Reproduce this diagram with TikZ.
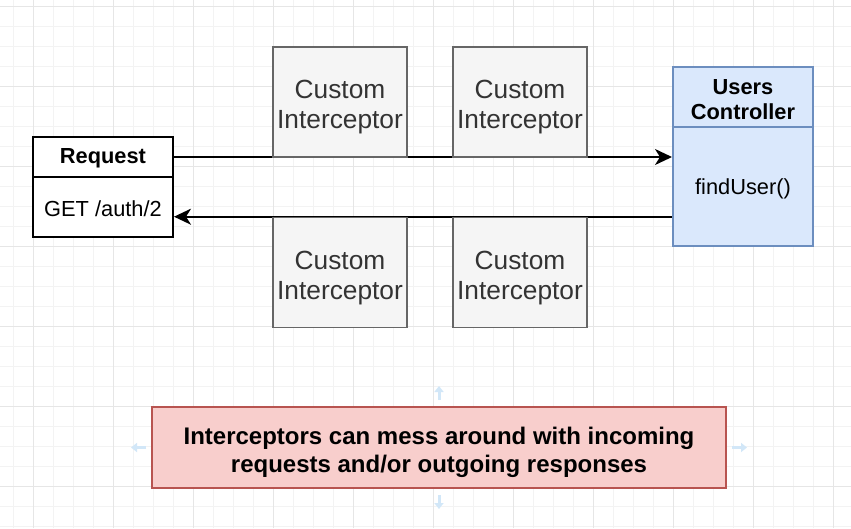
\documentclass[tikz,border=0pt]{standalone}
\usepackage{fontspec}
\setmainfont{Liberation Sans}
\usetikzlibrary{arrows.meta}
\pgfdeclarelayer{gridlayer}
\pgfdeclarelayer{linelayer}
\pgfsetlayers{gridlayer,linelayer,main}
\definecolor{gridminor}{HTML}{F3F3F3}
\definecolor{gridmajor}{HTML}{E6E6E6}
\definecolor{intfill}{HTML}{F5F5F5}
\definecolor{intdraw}{HTML}{666666}
\definecolor{inttext}{HTML}{333333}
\definecolor{ctrlfill}{HTML}{DAE8FC}
\definecolor{ctrldraw}{HTML}{6C8EBF}
\definecolor{notefill}{HTML}{F8CECC}
\definecolor{notedraw}{HTML}{B85450}
\definecolor{hintblue}{HTML}{D2E7F8}
\tikzset{
  reqbox/.style={draw=black, line width=2pt, fill=white, minimum width=140pt, inner sep=0pt},
  ctrlbox/.style={draw=ctrldraw, line width=2pt, fill=ctrlfill, minimum width=140pt, inner sep=0pt},
  intbox/.style={draw=intdraw, line width=1.6pt, fill=intfill, minimum width=134pt, minimum height=110pt, inner sep=0pt},
  notebox/.style={draw=notedraw, line width=2pt, fill=notefill, minimum width=574pt, minimum height=81pt, inner sep=0pt},
  txt/.style={inner sep=0pt, align=center, text=black},
  inttxt/.style={txt, text=inttext, font=\fontsize{26.3}{30}\selectfont},
  notetxt/.style={txt, font=\bfseries\fontsize{24}{28}\selectfont},
  headfont/.style={txt, font=\bfseries\fontsize{21.8}{25}\selectfont},
  bodyfont/.style={txt, font=\fontsize{21.8}{25}\selectfont},
  flow/.style={draw=black, line width=2pt, -{Stealth[length=17pt,width=16pt,inset=5pt]}},
  hint/.style={draw=hintblue, line width=3pt, -{Triangle[length=6pt,width=9pt]}}
}
\begin{document}
\begin{tikzpicture}[x=1pt,y=-1pt]
\useasboundingbox (0,0) rectangle (851,528);
\begin{pgfonlayer}{gridlayer}
  \fill[white] (0,0) rectangle (851,528);
  \foreach \i in {0,...,42} {\draw[gridminor, line width=0.8pt] ({13.33+20*\i},0) -- ++(0,528);}
  \foreach \i in {0,...,26} {\draw[gridminor, line width=0.8pt] (0,{6.67+20*\i}) -- ++(851,0);}
  \foreach \i in {0,...,10} {\draw[gridmajor, line width=0.8pt] ({33.33+80*\i},0) -- ++(0,528);}
  \foreach \i in {0,...,6} {\draw[gridmajor, line width=0.8pt] (0,{6.67+80*\i}) -- ++(851,0);}
\end{pgfonlayer}

% Request
\node[reqbox, minimum height=40pt] (reqhead) at (103,157) {};
\node[headfont] (reqheadtxt) at ([yshift=-1.5pt]reqhead.center) {Request};
\node[reqbox, minimum height=60pt] (reqbody) at (103,207) {};
\node[bodyfont] (reqbodytxt) at ([yshift=-1.5pt]reqbody.center) {GET /auth/2};

% Users Controller
\node[ctrlbox, minimum height=60pt] (ctrlhead) at (743,97) {};
\node[headfont] (ctrlheadtxt) at ([yshift=-2.5pt]ctrlhead.center) {Users\\Controller};
\node[ctrlbox, minimum height=119pt] (ctrlbody) at (743,186.5) {};
\node[bodyfont] (ctrlbodytxt) at ([yshift=-2pt]ctrlbody.center) {findUser()};

% Interceptors
\node[intbox] (intA) at (340,102) {};
\node[intbox] (intB) at (520,102) {};
\node[intbox] (intC) at (340,272.5) {};
\node[intbox] (intD) at (520,272.5) {};
\node[inttxt] (intAtxt) at ([yshift=-5.5pt]intA.center) {Custom\\Interceptor};
\node[inttxt] (intBtxt) at ([yshift=-5.5pt]intB.center) {Custom\\Interceptor};
\node[inttxt] (intCtxt) at ([yshift=-5.5pt]intC.center) {Custom\\Interceptor};
\node[inttxt] (intDtxt) at ([yshift=-5.5pt]intD.center) {Custom\\Interceptor};

% Note
\node[notebox] (note) at (439,447.5) {};
\node[notetxt] (notetext) at ([yshift=-4.5pt]note.center) {Interceptors can mess around with incoming\\requests and/or outgoing responses};

\begin{pgfonlayer}{linelayer}
  \draw[flow] (reqhead.east) -- (reqhead.east -| ctrlbody.west);
  \draw[flow] (ctrlbody.west |- intC.north) -- (reqbody.east |- intC.north);
\end{pgfonlayer}

% hover hints around the note
\draw[hint] (439,400) -- (439,386);
\draw[hint] (439,495) -- (439,509);
\draw[hint] (146,447.5) -- (131,447.5);
\draw[hint] (732,447.5) -- (747,447.5);
\end{tikzpicture}
\end{document}
